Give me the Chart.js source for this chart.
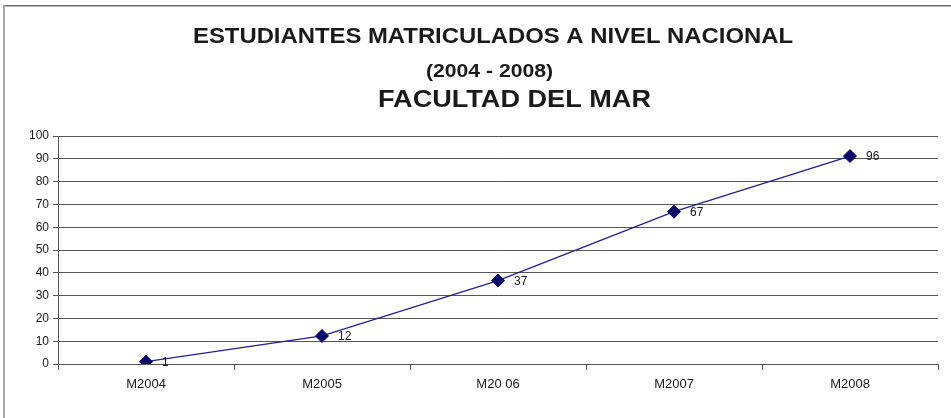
<!DOCTYPE html>
<html>
<head>
<meta charset="utf-8">
<script src="https://cdn.jsdelivr.net/npm/chart.js@4/dist/chart.umd.min.js"></script>
<style>
  html, body { margin: 0; padding: 0; background: #fff; }
  #wrap { width: 951px; height: 418px; position: relative; }
</style>
</head>
<body>
<div id="wrap"><canvas id="c" width="951" height="418"></canvas></div>
<script>
const categories = ['M2004', 'M2005', 'M20 06', 'M2007', 'M2008'];
const values = [1, 12.3, 36.6, 66.8, 91.2];
const valueLabels = ['1', '12', '37', '67', '96'];
const titleLines = ['ESTUDIANTES MATRICULADOS A NIVEL NACIONAL', '(2004 - 2008)', 'FACULTAD DEL MAR'];
const yMin = 0, yMax = 100, yStep = 10;

const FONT = '"Liberation Sans", Arial, sans-serif';

const framePlugin = {
  id: 'frame',
  beforeDraw(chart) {
    const ctx = chart.ctx;
    ctx.save();
    ctx.fillStyle = '#fff';
    ctx.fillRect(0, 0, chart.width, chart.height);
    ctx.strokeStyle = '#6e6e6e';
    ctx.lineWidth = 1.5;
    ctx.beginPath(); ctx.moveTo(3, 5.75); ctx.lineTo(chart.width, 5.75); ctx.stroke();
    ctx.strokeStyle = '#a8a8a8';
    ctx.lineWidth = 2;
    ctx.beginPath(); ctx.moveTo(4, 5); ctx.lineTo(4, chart.height); ctx.stroke();
    ctx.restore();
  }
};

const titlePlugin = {
  id: 'titles',
  afterDraw(chart) {
    const ctx = chart.ctx;
    const specs = [
      { size: 22, cx: 493, y: 43, w: 600 },
      { size: 19, cx: 489.5, y: 77, w: 127 },
      { size: 24, cx: 514.5, y: 107, w: 273 }
    ];
    titleLines.forEach((t, i) => {
      const s = specs[i];
      ctx.save();
      ctx.fillStyle = '#1a1a1a';
      ctx.textAlign = 'center';
      ctx.textBaseline = 'alphabetic';
      ctx.font = 'bold ' + s.size + 'px ' + FONT;
      const mw = ctx.measureText(t).width;
      const k = s.w / mw;
      ctx.translate(s.cx, s.y);
      ctx.scale(k, 1);
      ctx.fillText(t, 0, 0);
      ctx.restore();
    });
  }
};

const labelPlugin = {
  id: 'pointLabels',
  afterDatasetsDraw(chart) {
    const ctx = chart.ctx;
    const meta = chart.getDatasetMeta(0);
    ctx.save();
    ctx.fillStyle = '#1a1a1a';
    ctx.font = '12px ' + FONT;
    ctx.textAlign = 'left';
    ctx.textBaseline = 'middle';
    meta.data.forEach((pt, i) => {
      ctx.fillText(valueLabels[i], pt.x + 16, pt.y + 1);
    });
    ctx.restore();
  }
};

new Chart(document.getElementById('c'), {
  type: 'line',
  data: {
    labels: categories,
    datasets: [{
      data: values,
      borderColor: '#22228a',
      borderWidth: 1.3,
      pointStyle: 'rectRot',
      pointRadius: 6.5,
      pointBackgroundColor: '#0a0a66',
      pointBorderColor: '#0a0a66',
      pointBorderWidth: 1,
      tension: 0,
      fill: false
    }]
  },
  options: {
    responsive: false,
    animation: false,
    events: [],
    layout: { padding: { left: 0, top: 136, right: 13, bottom: 0 } },
    plugins: { legend: { display: false }, tooltip: { enabled: false }, title: { display: false } },
    scales: {
      x: {
        offset: true,
        grid: { offset: true, drawOnChartArea: false, drawTicks: true, tickLength: 6, color: '#555', lineWidth: 1 },
        border: { display: true, color: '#555', width: 1 },
        ticks: { color: '#1a1a1a', font: { family: FONT, size: 13 }, padding: 7, maxRotation: 0, autoSkip: false },
        afterFit(scale) { scale.height = 54; }
      },
      y: {
        min: yMin, max: yMax,
        grid: { color: '#555', lineWidth: 1, tickLength: 5, drawTicks: true },
        border: { display: true, color: '#555', width: 1 },
        ticks: { stepSize: yStep, color: '#1a1a1a', font: { family: FONT, size: 12 }, padding: 4 },
        afterFit(scale) { scale.width = 58; }
      }
    }
  },
  plugins: [framePlugin, titlePlugin, labelPlugin]
});
</script>
</body>
</html>
